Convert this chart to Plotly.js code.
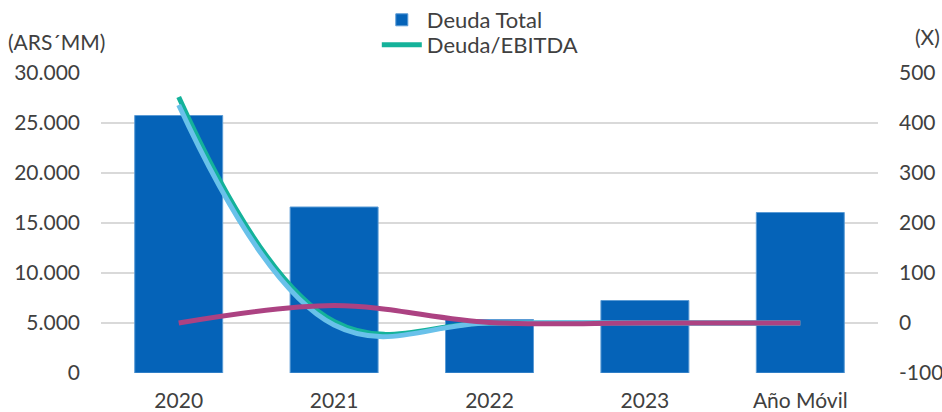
<!DOCTYPE html>
<html>
<head>
<meta charset="utf-8">
<script src="https://cdn.plot.ly/plotly-3.0.1.min.js"></script>
<style>html,body{margin:0;padding:0;background:#fff;}#chart{width:942px;height:412px;}</style>
</head>
<body>
<div id="chart"></div>
<script>
const categories = ["2020", "2021", "2022", "2023", "Año Móvil"];
const deudaTotal = [25750, 16600, 5350, 7250, 16050];
const deudaEbitda = [452, 3, 0, 0, 0];
const serieCeleste = [436, -4, 0, 0, 0];
const serieMagenta = [0, 35, 1, 0, 0];
const leftTicks = [0, 5000, 10000, 15000, 20000, 25000, 30000];
const leftTickText = ["0", "5.000", "10.000", "15.000", "20.000", "25.000", "30.000"];
const rightTicks = [-100, 0, 100, 200, 300, 400, 500];
const rightTickText = ["-100", "0", "100", "200", "300", "400", "500"];

const textColor = "#404040";
const fontFamily = "Lato, 'Open Sans', sans-serif";

const traces = [
  {
    type: "bar", name: "Deuda Total", x: categories, y: deudaTotal,
    marker: {color: "#0563b8", line: {color: "#5b9bd5", width: 1}},
    yaxis: "y", legend: "legend"
  },
  {
    type: "scatter", mode: "lines", name: "Deuda/EBITDA", x: categories, y: deudaEbitda,
    line: {color: "#14b29a", width: 5, shape: "spline", smoothing: 1.15},
    yaxis: "y2", legend: "legend2"
  },
  {
    type: "scatter", mode: "lines", name: "", x: categories, y: serieCeleste,
    line: {color: "#69c1ea", width: 5, shape: "spline", smoothing: 1.15},
    yaxis: "y2", showlegend: false
  },
  {
    type: "scatter", mode: "lines", name: "", x: categories, y: serieMagenta,
    line: {color: "#ac4282", width: 5, shape: "spline", smoothing: 1},
    yaxis: "y2", showlegend: false
  }
];

const legendBase = {
  xref: "container", yref: "container", x: 0.400, xanchor: "left", yanchor: "middle",
  font: {family: fontFamily, size: 22, color: textColor},
  bgcolor: "rgba(0,0,0,0)", itemwidth: 40
};

const layout = {
  width: 942, height: 412,
  margin: {l: 101, r: 64, t: 73, b: 39, pad: 0, autoexpand: false},
  paper_bgcolor: "#ffffff", plot_bgcolor: "#ffffff",
  font: {family: fontFamily, size: 21, color: textColor},
  bargap: 0.434,
  showlegend: true,
  legend: Object.assign({}, legendBase, {y: 1 - 20 / 412}),
  legend2: Object.assign({}, legendBase, {y: 1 - 45 / 412}),
  xaxis: {
    type: "category", showgrid: false, zeroline: false, showline: false, automargin: false,
    tickangle: 0, ticks: "", tickfont: {size: 21, color: textColor}, ticklabelstandoff: 13
  },
  yaxis: {
    range: [0, 30000], tickvals: leftTicks, ticktext: leftTickText, automargin: false,
    showgrid: true, gridcolor: "#d9d9d9", gridwidth: 1.5, zeroline: false,
    showline: false, ticks: "", ticklabelstandoff: 20,
    tickfont: {size: 21, color: textColor}
  },
  yaxis2: {
    overlaying: "y", side: "right", range: [-100, 500], automargin: false,
    tickvals: rightTicks, ticktext: rightTickText,
    showgrid: false, zeroline: false, showline: false, ticks: "",
    ticklabelstandoff: 20, tickfont: {size: 21, color: textColor}
  },
  annotations: [
    {text: "(ARS´MM)", xref: "paper", yref: "paper", x: -0.1222, xanchor: "left",
     y: 1.106, yanchor: "middle", showarrow: false, font: {size: 21, color: textColor}},
    {text: "(X)", xref: "paper", yref: "paper", x: 1.082, xanchor: "right",
     y: 1.12, yanchor: "middle", showarrow: false, font: {size: 21, color: textColor}}
  ]
};

Plotly.newPlot("chart", traces, layout, {displayModeBar: false, staticPlot: true});
</script>
</body>
</html>
